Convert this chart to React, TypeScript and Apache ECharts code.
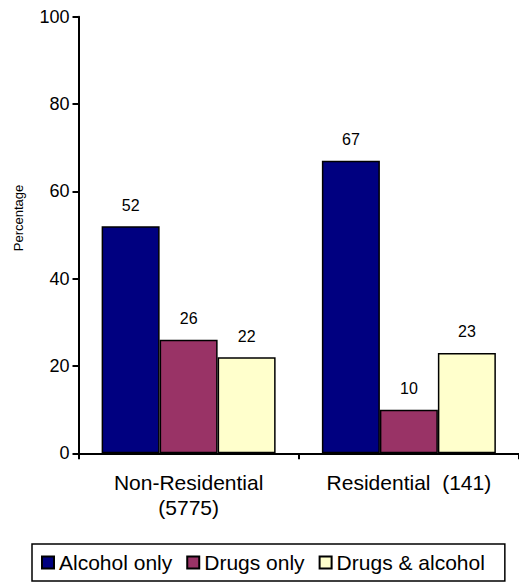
import React, { useEffect, useRef } from "react";
import * as echarts from "echarts";

const categories = ["Non-Residential\n(5775)", "Residential  (141)"];
const seriesNames = ["Alcohol only", "Drugs only", "Drugs & alcohol"];
const alcoholOnly = [52, 67];
const drugsOnly = [26, 10];
const drugsAndAlcohol = [22, 23];
const colors = ["#000080", "#993366", "#FFFFCC"];

const FONT = "'Liberation Sans', Arial, sans-serif";

export default function App() {
  const ref = useRef<HTMLDivElement>(null);
  useEffect(() => {
    document.body.style.margin = "0";
    if (!ref.current) return;
    const chart = echarts.init(ref.current, undefined, { renderer: "svg" });
    const values = [alcoholOnly, drugsOnly, drugsAndAlcohol];
    chart.setOption({
      animation: false,
      textStyle: { fontFamily: FONT },
      grid: { left: 78.5, top: 16.7, width: 443, height: 436.6, containLabel: false },
      xAxis: {
        type: "category",
        data: categories,
        axisLine: { lineStyle: { color: "#000", width: 2 } },
        axisTick: { show: true, alignWithLabel: false, length: 6, lineStyle: { color: "#000", width: 2 } },
        axisLabel: { color: "#000", fontSize: 21, fontFamily: FONT, margin: 17, lineHeight: 25, interval: 0 },
        splitLine: { show: false },
      },
      yAxis: {
        type: "value",
        min: 0,
        max: 100,
        interval: 20,
        axisLine: { show: true, lineStyle: { color: "#000", width: 2 } },
        axisTick: { show: true, length: 6, lineStyle: { color: "#000", width: 2 } },
        axisLabel: { color: "#000", fontSize: 18, fontFamily: FONT, margin: 9 },
        splitLine: { show: false },
      },
      legend: {
        left: 32,
        top: 544,
        data: seriesNames,
        icon: "rect",
        itemWidth: 12,
        itemHeight: 12,
        itemGap: 14,
        padding: [8, 20, 8, 9],
        borderColor: "#000",
        borderWidth: 1.5,
        textStyle: { color: "#000", fontSize: 21, fontFamily: FONT },
      },
      graphic: [
        {
          type: "text",
          x: 18,
          y: 218,
          rotation: Math.PI / 2,
          style: {
            text: "Percentage",
            fontSize: 13,
            fontFamily: FONT,
            fill: "#000",
            align: "center",
            verticalAlign: "middle",
          },
        },
      ],
      series: seriesNames.map((name, i) => ({
        name,
        type: "bar",
        data: values[i],
        barGap: "0%",
        barCategoryGap: "21%",
        itemStyle: { color: colors[i], borderColor: "#000", borderWidth: 1.5 },
        label: {
          show: true,
          position: "top",
          distance: 13,
          color: "#000",
          fontSize: 16,
          fontFamily: FONT,
        },
      })),
    });
    return () => chart.dispose();
  }, []);
  return <div ref={ref} style={{ width: 519, height: 584 }} />;
}
